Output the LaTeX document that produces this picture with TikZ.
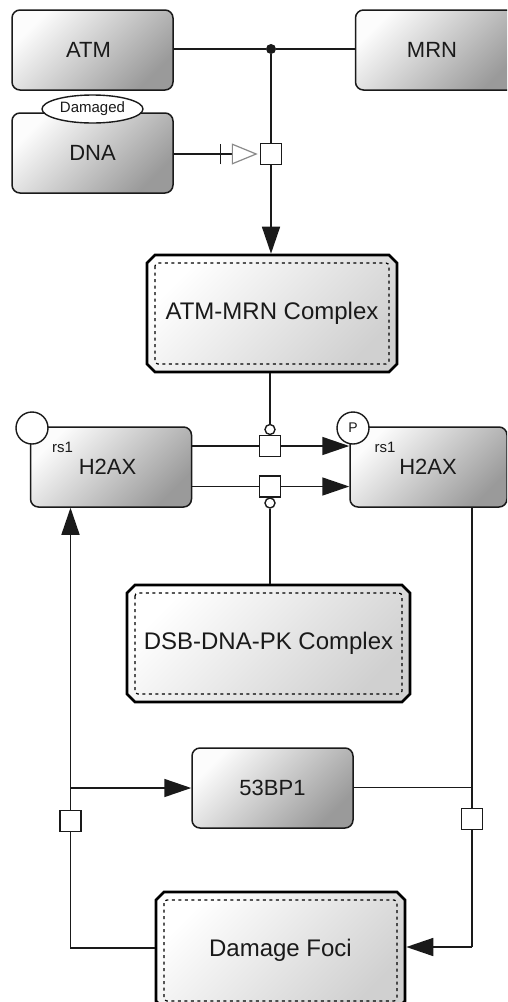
\documentclass[tikz,border=0pt]{standalone}
\usepackage{fontspec}
\setmainfont{Liberation Sans}
\usetikzlibrary{arrows.meta,shapes.misc,shapes.geometric}
\definecolor{ink}{HTML}{1A1A1A}
\definecolor{lightgr}{HTML}{FCFCFC}
\definecolor{darkgr}{HTML}{9A9A9A}
\definecolor{cplxgr}{HTML}{D0D0D0}
\definecolor{opengr}{HTML}{8A8A8A}
\begin{document}
\begin{tikzpicture}[x=1pt,y=-1pt,
  simplenode/.style={draw=ink, line width=1.5pt, rounded corners=8pt,
    minimum width=161pt, minimum height=80pt, inner sep=0pt,
    top color=lightgr, bottom color=darkgr, shading angle=45,
    font=\fontsize{22}{26}\selectfont, text=ink},
  complexnode/.style={chamfered rectangle, chamfered rectangle xsep=4pt,
    chamfered rectangle ysep=4pt, draw=black, line width=2.6pt, inner sep=0pt,
    top color=white, bottom color=cplxgr, shading angle=45,
    font=\fontsize{24}{28}\selectfont, text=ink,
    path picture={\draw[black, line width=1.2pt, dash pattern=on 3pt off 3.5pt, rounded corners=3pt]
      ([shift={(8pt,-8pt)}]path picture bounding box.north west) rectangle
      ([shift={(-8pt,8pt)}]path picture bounding box.south east);}},
  lbl/.style={font=\fontsize{22}{26}\selectfont, text=ink, inner sep=0pt},
  smalllbl/.style={font=\fontsize{15}{17}\selectfont, text=ink, inner sep=0pt},
  procsq/.style={draw=ink, fill=white, line width=1.5pt, minimum size=21pt, inner sep=0pt},
  statevar/.style={circle, draw=ink, fill=white, line width=1.4pt, minimum size=32pt,
    inner sep=0pt, font=\fontsize{14}{16}\selectfont, text=ink},
  modcirc/.style={circle, draw=ink, fill=white, line width=1.4pt, minimum size=10pt, inner sep=0pt},
  conn/.style={draw=ink, line width=1.6pt},
  arr/.style={-{Triangle[length=27pt,width=18pt]}}
]
\useasboundingbox (0,0) rectangle (507,1002);
\clip (0,0) rectangle (507,1002);
\fill[white] (0,0) rectangle (507,1002);

% entities
\node[simplenode] (atm) at (92.5,50) {ATM\kern8pt};
\node[simplenode, minimum width=163pt] (mrn) at (437,50) {MRN\kern10pt};
\node[simplenode] (dna) at (92.5,153) {DNA};
\node[ellipse, draw=ink, fill=white, line width=1.4pt, minimum width=101pt, minimum height=28pt,
  inner sep=0pt, font=\fontsize{15}{17}\selectfont, text=ink] (dmg) at (92.5,109) {Damaged};

\node[complexnode, minimum width=250pt, minimum height=117pt] (amc) at (272,313.5) {ATM-MRN Complex};

\node[simplenode] (h2l) at (111,467) {};
\node[lbl] (h2lt) at ([xshift=-3.5pt]h2l.center) {H2AX};
\node[smalllbl] (h2lr) at ([shift={(-48.5pt,20pt)}]h2l.center) {rs1};
\node[statevar] (svl) at (32,428) {};

\node[simplenode, minimum width=157pt] (h2r) at (428.5,467) {};
\node[lbl] (h2rt) at ([xshift=-0.5pt]h2r.center) {H2AX};
\node[smalllbl] (h2rr) at ([shift={(-43.5pt,20pt)}]h2r.center) {rs1};
\node[statevar] (svr) at (353,428) {P};

\node[complexnode, minimum width=283pt, minimum height=117pt] (dsb) at (268.5,643.5) {DSB-DNA-PK Complex};
\node[simplenode] (bp) at (272.5,788) {53BP1};
\node[complexnode, minimum width=249pt, minimum height=117pt] (foci) at (280.5,950.5) {Damage Foci};

% process glyphs
\node[circle, fill=ink, inner sep=0pt, minimum size=10pt] (dot) at (271,49) {};
\node[procsq] (sq1) at (271,154) {};
\node[procsq] (sq2) at (270,446) {};
\node[procsq] (sq3) at (270,486.5) {};
\node[modcirc] (c1) at (270,429.5) {};
\node[modcirc] (c2) at (270,503) {};
\node[procsq] (sqL) at (70.5,821) {};
\node[procsq] (sqR) at (472,819) {};

\coordinate (bar) at (220.5,154);
\coordinate (lb) at (70.5,788);
\coordinate (fl) at (70.5,948);
\coordinate (rb) at (472,787.5);
\coordinate (fr) at (472,947);

% connectors
\draw[conn] (atm.east |- dot) -- (dot) -- (mrn.west |- dot);
\draw[conn] (dot) -- (sq1);
\draw[conn, arr] (sq1.south) -- (sq1.south |- amc.north);
\draw[conn] (dna.east |- sq1) -- (bar);
\draw[conn, line width=1.8pt] ([yshift=-10pt]bar) -- ([yshift=10pt]bar);
\draw[conn, shorten >=2pt, -{Triangle[open, length=26pt, width=21pt, color=opengr, line width=1.2pt]}] (bar) -- (sq1.west);

\draw[conn] (amc.south -| c1) -- (c1);
\draw[conn] (h2l.east |- sq2) -- (sq2.west);
\draw[conn, arr] (sq2.east) -- (h2r.west |- sq2);
\draw[conn] (h2l.east |- sq3) -- (sq3.west);
\draw[conn, arr] (sq3.east) -- (h2r.west |- sq3);
\draw[conn] (c2) -- (c2 |- dsb.north);

\draw[conn] (foci.west |- fl) -- (fl) -- (sqL.south);
\draw[conn] (sqL.north) -- (lb);
\draw[conn, arr] (lb) -- (h2l.south -| lb);
\draw[conn, arr] (lb) -- (bp.west |- lb);

\draw[conn] (h2r.south -| rb) -- (sqR.north);
\draw[conn] (bp.east |- rb) -- (rb);
\draw[conn] (sqR.south) -- (fr);
\draw[conn, arr] (fr) -- (foci.east |- fr);
\end{tikzpicture}
\end{document}
